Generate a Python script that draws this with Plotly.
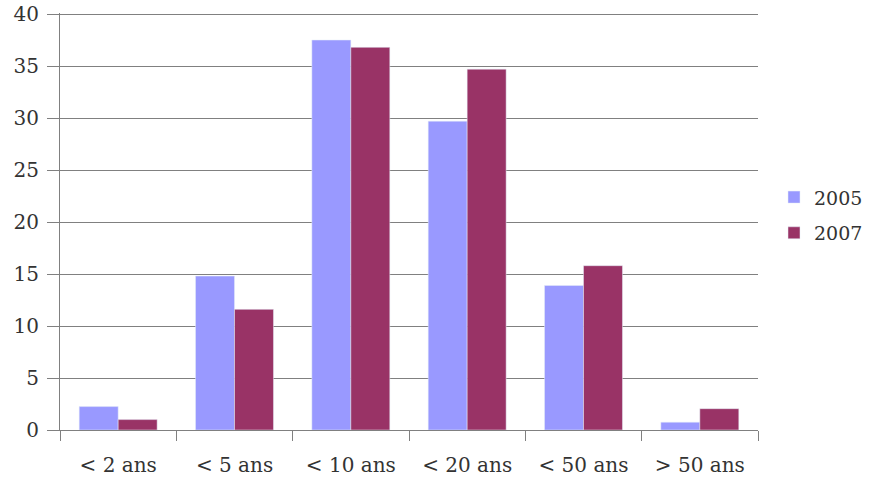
import plotly.graph_objects as go

categories = ["< 2 ans", "< 5 ans", "< 10 ans", "< 20 ans", "< 50 ans", "> 50 ans"]
values_2005 = [2.25, 14.8, 37.5, 29.7, 13.9, 0.75]
values_2007 = [1.0, 11.6, 36.8, 34.7, 15.8, 2.05]

font_family = "DejaVu Serif"
axis_color = "#808080"
text_color = "#333333"

fig = go.Figure()
fig.add_trace(go.Bar(name="2005", x=categories, y=values_2005, marker_color="#9999FF",
                     legendgroup="a"))
fig.add_trace(go.Bar(name="2007", x=categories, y=values_2007, marker_color="#993366",
                     legendgroup="b"))

fig.update_layout(
    width=873, height=487,
    margin=dict(l=60, r=115, t=13, b=57, autoexpand=False),
    barmode="group", bargap=0.33, bargroupgap=0,
    plot_bgcolor="white", paper_bgcolor="white",
    font=dict(family=font_family, size=20, color=text_color),
    legend=dict(xref="container", x=774 / 873, y=0.515, yanchor="middle", xanchor="left",
                traceorder="grouped", tracegroupgap=8,
                font=dict(size=19, color=text_color)),
)
fig.update_xaxes(showline=True, linecolor=axis_color, linewidth=1,
                 ticks="outside", tickson="boundaries", ticklen=10, tickcolor=axis_color,
                 showgrid=False, tickfont=dict(size=20), ticklabelstandoff=17)
fig.update_yaxes(range=[0, 40.1], dtick=5, showgrid=True, gridcolor=axis_color, gridwidth=1,
                 showline=True, linecolor=axis_color, linewidth=1,
                 ticks="outside", ticklen=12, tickcolor=axis_color,
                 zeroline=False, tickfont=dict(size=20), ticklabeloverflow="allow",
                 ticklabelstandoff=4)

fig.write_html("out.html")
